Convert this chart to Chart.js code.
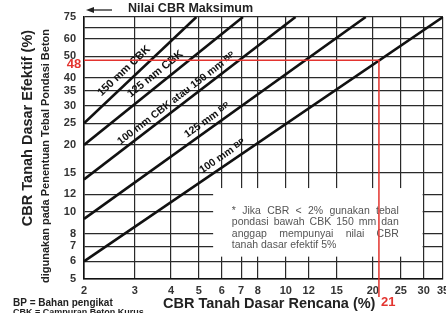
<!DOCTYPE html>
<html>
<head>
<meta charset="utf-8">
<script src="https://cdn.jsdelivr.net/npm/chart.js@4.4.0/dist/chart.umd.min.js"></script>
<style>
  html, body { margin: 0; padding: 0; background: #fff; overflow: hidden; }
  #wrap { position: relative; width: 446px; height: 313px; }
</style>
</head>
<body>
<div id="wrap"><canvas id="chart" width="446" height="313"></canvas></div>
<script>
// Garis tebal pondasi (nomogram CBR) - titik awal dan akhir tiap garis
const curveNames = ['150 mm CBK', '125 mm CBK', '100 mm CBK atau 150 mm BP', '125 mm BP', '100 mm BP'];
const curveStartCbr = [2, 2, 2, 2, 2];
const curveStartEff = [25, 20, 14, 9.3, 6];
const curveEndCbr = [4.9, 7.1, 10.8, 18.9, 35];
const curveEndEff = [75, 75, 75, 75, 75];

// Tick sumbu
const xTicks = [2, 3, 4, 5, 6, 7, 8, 10, 12, 15, 20, 25, 30, 35];
const yTicks = [5, 6, 7, 8, 10, 12, 15, 20, 25, 30, 35, 40, 50, 60, 67, 75];
const yLabeled = [5, 6, 7, 8, 10, 12, 15, 20, 25, 30, 35, 40, 50, 60, 75];

// Contoh pembacaan (garis merah)
const designCbr = 21;
const effectiveCbr = 48;

const noteLines = [
    '* Jika CBR < 2% gunakan tebal',
    'pondasi bawah CBK 150 mm dan',
    'anggap mempunyai nilai CBR',
    'tanah dasar efektif 5%'
];

const FONT = '"Liberation Sans", Arial, sans-serif';
const RED = '#e3342f';

function font(size, bold) {
    return (bold ? 'bold ' : '') + size + 'px ' + FONT;
}

// teks rata kiri-kanan
function drawJustified(ctx, line, x0, x1, y, justify) {
    const words = line.split(' ');
    if (!justify || words.length < 2) {
        ctx.fillText(line, x0, y);
        return;
    }
    const total = words.reduce((s, w) => s + ctx.measureText(w).width, 0);
    const gap = (x1 - x0 - total) / (words.length - 1);
    let cx = x0;
    words.forEach(w => {
        ctx.fillText(w, cx, y);
        cx += ctx.measureText(w).width + gap;
    });
}

// posisi label sepanjang garis (fraksi) dan jarak tegak lurus
const labelAt = [0.42, 0.49, 0.46, 0.455, 0.40];
const labelOffset = [10.5, 10.5, 8, 8.5, 9];

const nomogramPlugin = {
    id: 'nomogram',
    beforeDatasetsDraw(chart) {
        const { ctx, scales: { x, y } } = chart;
        ctx.save();
        // area catatan (grid terputus)
        const l = x.getPixelForValue(5.6), r = x.getPixelForValue(30) - 1;
        const t = y.getPixelForValue(12.8), b = y.getPixelForValue(6.3);
        ctx.fillStyle = '#fff';
        ctx.fillRect(l, t, r - l, b - t);

        ctx.fillStyle = '#555';
        ctx.font = font(10.5, false);
        ctx.textBaseline = 'middle';
        ctx.textAlign = 'left';
        const x0 = x.getPixelForValue(6.5), x1 = x.getPixelForValue(24.6);
        const y0 = y.getPixelForValue(10.1);
        noteLines.forEach((line, i) => {
            drawJustified(ctx, line, x0, x1, y0 + i * 11.4, i < noteLines.length - 1);
        });
        ctx.restore();
    },
    afterDatasetsDraw(chart) {
        const { ctx, chartArea, scales: { x, y } } = chart;
        ctx.save();

        // label tiap garis
        ctx.fillStyle = '#111';
        ctx.textBaseline = 'middle';
        ctx.textAlign = 'left';
        curveNames.forEach((name, i) => {
            const ax = x.getPixelForValue(curveStartCbr[i]), ay = y.getPixelForValue(curveStartEff[i]);
            const bx = x.getPixelForValue(curveEndCbr[i]), by = y.getPixelForValue(curveEndEff[i]);
            const dx = bx - ax, dy = by - ay, len = Math.hypot(dx, dy);
            const px = ax + dx * labelAt[i] + dy / len * labelOffset[i];
            const py = ay + dy * labelAt[i] - dx / len * labelOffset[i];
            const main = name.endsWith('BP') ? name.slice(0, -2) : name;
            const sub = name.endsWith('BP') ? 'BP' : '';
            const mainSize = i < 2 ? 11 : 10.5;
            ctx.font = font(mainSize, true);
            const w1 = ctx.measureText(main).width;
            ctx.font = font(8, true);
            const w2 = sub ? ctx.measureText(sub).width : 0;
            ctx.save();
            ctx.translate(px, py);
            ctx.rotate(Math.atan2(dy, dx));
            ctx.font = font(mainSize, true);
            ctx.fillText(main, -(w1 + w2) / 2, 0);
            if (sub) {
                ctx.font = font(8, true);
                ctx.fillText(sub, -(w1 + w2) / 2 + w1, -1);
            }
            ctx.restore();
        });

        // garis merah pembacaan
        const rx = x.getPixelForValue(designCbr), ry = y.getPixelForValue(effectiveCbr);
        ctx.strokeStyle = RED;
        ctx.lineWidth = 1.5;
        ctx.beginPath();
        ctx.moveTo(chartArea.left, ry);
        ctx.lineTo(rx, ry);
        ctx.lineTo(rx, chartArea.bottom + 18);
        ctx.stroke();

        ctx.fillStyle = RED;
        ctx.font = font(13, true);
        ctx.textAlign = 'center';
        ctx.fillText(String(effectiveCbr), 74, ry + 4);
        ctx.textAlign = 'left';
        ctx.fillText(String(designCbr), rx + 2, 302);
        ctx.restore();
    },
    afterDraw(chart) {
        const { ctx } = chart;
        ctx.save();
        ctx.fillStyle = '#222';
        ctx.textBaseline = 'middle';

        // judul sumbu Y (dua baris)
        ctx.save();
        ctx.translate(28, 128);
        ctx.rotate(-Math.PI / 2);
        ctx.textAlign = 'center';
        ctx.font = font(14.5, true);
        ctx.fillText('CBR Tanah Dasar Efektif (%)', 0, 0);
        ctx.restore();
        ctx.save();
        ctx.translate(46, 156);
        ctx.rotate(-Math.PI / 2);
        ctx.textAlign = 'center';
        ctx.font = font(11, true);
        ctx.fillText('digunakan pada Penentuan Tebal Pondasi Beton', 0, 0);
        ctx.restore();

        // judul sumbu X
        ctx.textAlign = 'left';
        ctx.font = font(14.5, true);
        ctx.fillText('CBR Tanah Dasar Rencana (%)', 163, 304);

        // judul atas dengan panah
        ctx.font = font(12.5, true);
        ctx.fillText('Nilai CBR Maksimum', 128, 9);
        ctx.strokeStyle = '#222';
        ctx.lineWidth = 1.3;
        ctx.beginPath();
        ctx.moveTo(92, 10);
        ctx.lineTo(112, 10);
        ctx.stroke();
        ctx.beginPath();
        ctx.moveTo(86, 10);
        ctx.lineTo(94, 7);
        ctx.lineTo(94, 13);
        ctx.closePath();
        ctx.fill();

        // keterangan
        ctx.font = font(10, true);
        ctx.fillText('BP = Bahan pengikat', 13, 303);
        ctx.font = font(9, true);
        ctx.fillText('CBK = Campuran Beton Kurus', 13, 313);
        ctx.restore();
    }
};

const datasets = curveNames.map((name, i) => ({
    label: name,
    data: [
        { x: curveStartCbr[i], y: curveStartEff[i] },
        { x: curveEndCbr[i], y: curveEndEff[i] }
    ],
    showLine: true,
    borderColor: '#111',
    borderWidth: 2.6,
    pointRadius: 0,
    fill: false
}));

const tickFont = { family: FONT, size: 11, weight: 'bold' };

new Chart(document.getElementById('chart'), {
    type: 'scatter',
    data: { datasets },
    options: {
        responsive: false,
        animation: false,
        devicePixelRatio: 1,
        layout: { padding: { top: 17, right: 3, left: 0, bottom: 0 } },
        plugins: { legend: { display: false }, tooltip: { enabled: false } },
        scales: {
            x: {
                type: 'logarithmic',
                min: 2,
                max: 35,
                afterBuildTicks: s => { s.ticks = xTicks.map(v => ({ value: v })); },
                afterFit: s => { s.height = 34; s.paddingLeft = 0; s.paddingRight = 0; },
                ticks: {
                    autoSkip: false,
                    maxRotation: 0,
                    padding: 5,
                    color: '#333',
                    font: tickFont,
                    callback: v => String(v)
                },
                grid: { color: '#2a2a2a', lineWidth: 1.2, drawTicks: false },
                border: { color: '#111', width: 1.6 }
            },
            y: {
                type: 'logarithmic',
                min: 5,
                max: 75,
                afterBuildTicks: s => { s.ticks = yTicks.map(v => ({ value: v })); },
                afterFit: s => { s.width = 84; s.paddingTop = 0; s.paddingBottom = 0; },
                ticks: {
                    autoSkip: false,
                    padding: 8,
                    color: '#333',
                    font: tickFont,
                    callback: v => yLabeled.includes(v) ? String(v) : ''
                },
                grid: { color: '#2a2a2a', lineWidth: 1.2, drawTicks: false },
                border: { color: '#111', width: 1.6 }
            }
        }
    },
    plugins: [nomogramPlugin]
});
</script>
</body>
</html>
